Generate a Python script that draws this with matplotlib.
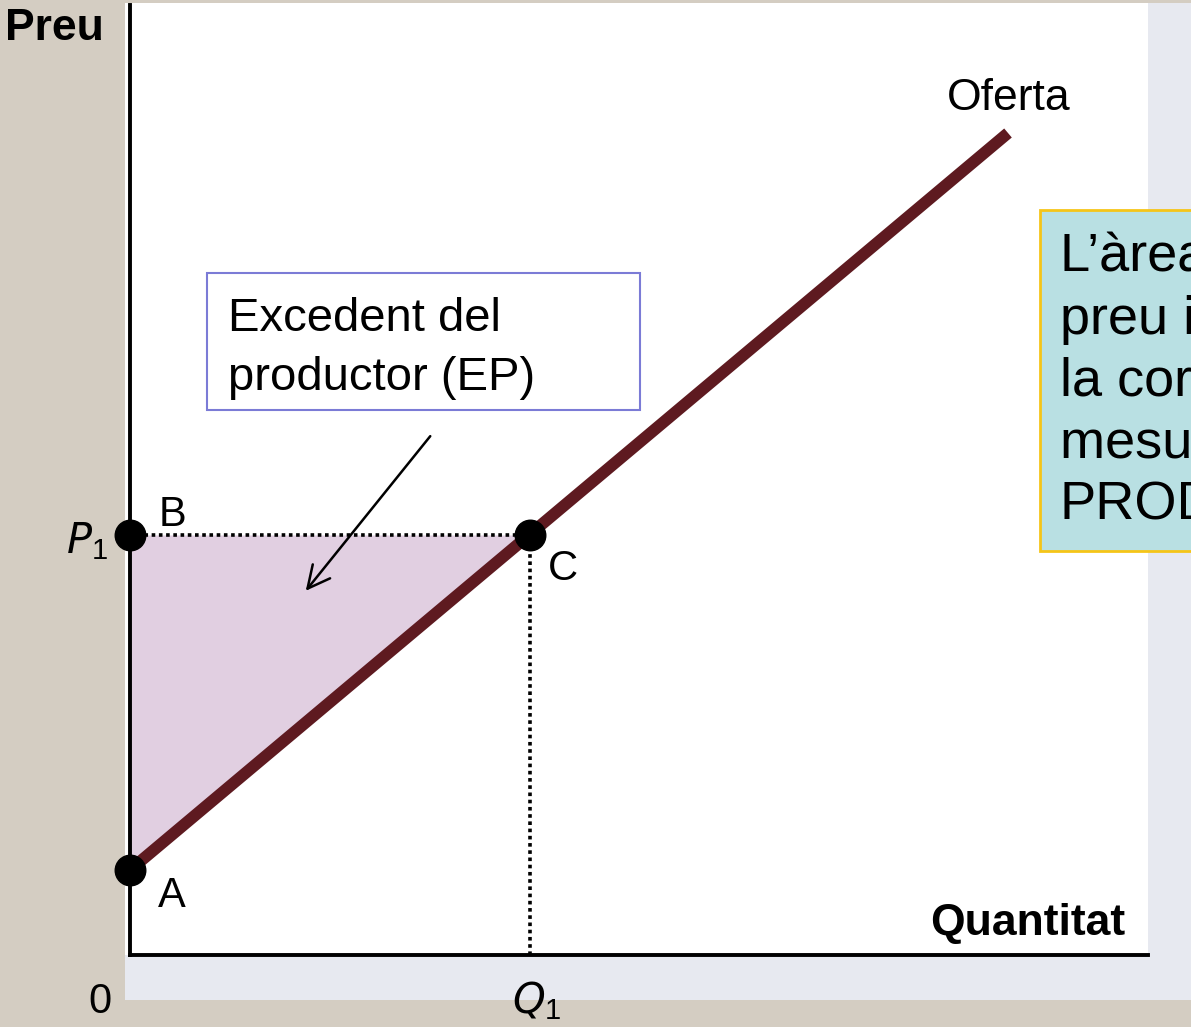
import matplotlib
matplotlib.use("Agg")
import matplotlib.pyplot as plt
from matplotlib.patches import Rectangle

plt.rcParams['font.family'] = ['Liberation Sans', 'DejaVu Sans']

W, H = 1191, 1027

# dades del gràfic (excedent del productor)
oferta_q = [0.0, 8.78]
oferta_p = [0.85, 8.22]
q1 = 4.0
p1 = 4.2
punts_q = [0.0, 0.0, 4.0]
punts_p = [0.85, 4.2, 4.2]
punts_nom = ["A", "B", "C"]
text_caixa = ["L’àrea sota el", "preu i per sobre de", "la corba d’oferta",
              "mesura l’excedent del", "PRODUCTOR"]


def fx(px):
    return px / W


def fy(py):
    return 1 - py / H


fig = plt.figure(figsize=(W / 100, H / 100), dpi=100, facecolor="#d4cdc2")

# fons: panell clar i zona blanca
fig.patches.append(Rectangle((fx(125), fy(1000)), fx(W) - fx(125), fy(3) - fy(1000),
                             transform=fig.transFigure, facecolor="#e7e9f0",
                             edgecolor="none", zorder=0))
fig.patches.append(Rectangle((fx(125), fy(955)), fx(1148) - fx(125), fy(3) - fy(955),
                             transform=fig.transFigure, facecolor="white",
                             edgecolor="none", zorder=0))

ax = fig.add_axes([fx(130), fy(955), fx(1148) - fx(130), fy(5) - fy(955)])
ax.set_zorder(1)
ax.set_facecolor("none")
ax.set_xlim(0, 10.18)
ax.set_ylim(0, 9.5)
for s in ["top", "right"]:
    ax.spines[s].set_visible(False)
for s in ["left", "bottom"]:
    ax.spines[s].set_linewidth(2.8)
    ax.spines[s].set_color("black")
    ax.spines[s].set_zorder(6)
ax.set_xticks([])
ax.set_yticks([])

# àrea de l'excedent (entre P1 i l'oferta fins a Q1)
pend = (oferta_p[1] - oferta_p[0]) / (oferta_q[1] - oferta_q[0])
ax.fill_between([0, q1], [oferta_p[0], oferta_p[0] + pend * q1], p1,
                color="#e1cfe1", lw=0, zorder=1)

# línies de punts
ax.plot([0, q1], [p1, p1], color="black", lw=2.6, ls=(0, (1, 1)), zorder=3)
ax.plot([q1, q1], [0, p1], color="black", lw=2.6, ls=(0, (1, 1)), zorder=3)

# corba d'oferta
ax.plot(oferta_q, oferta_p, color="#5e1a20", lw=8.5, solid_capstyle="butt", zorder=4)

# punts
ax.plot(punts_q, punts_p, "o", color="black", ms=22, clip_on=False, zorder=7)

# fletxa
ax.annotate("", xy=(1.74, 3.62), xytext=(3.02, 5.21),
            arrowprops=dict(arrowstyle="->", lw=1.8, color="black", mutation_scale=40),
            zorder=5)

# textos
fs = 30
fig.text(fx(5), fy(40), "Preu", fontsize=32, fontweight="bold", va="baseline")
fig.text(fx(1125), fy(935), "Quantitat", fontsize=32, fontweight="bold",
         ha="right", va="baseline")
fig.text(fx(947), fy(110), "Oferta", fontsize=32, va="baseline")
fig.text(fx(100), fy(1013), "0", fontsize=fs, ha="center", va="baseline")
fig.text(fx(512), fy(1013), "$\\mathit{Q}_{\\mathregular{1}}$", fontsize=fs, va="baseline")
fig.text(fx(66), fy(553), "$\\mathit{P}_{\\mathregular{1}}$", fontsize=fs, va="baseline")
fig.text(fx(159), fy(526), punts_nom[1], fontsize=fs, va="baseline")
fig.text(fx(548), fy(580), punts_nom[2], fontsize=fs, va="baseline")
fig.text(fx(158), fy(907), punts_nom[0], fontsize=fs, va="baseline")

# caixa de l'excedent
fig.patches.append(Rectangle((fx(207), fy(410)), fx(640) - fx(207), fy(273) - fy(410),
                             transform=fig.transFigure, facecolor="white",
                             edgecolor="#7b7bd6", lw=1.5, zorder=3))
fig.text(fx(228), fy(331), "Excedent del", fontsize=34, va="baseline", zorder=4)
fig.text(fx(228), fy(390), "productor (EP)", fontsize=34, va="baseline", zorder=4)

# caixa explicativa (retallada per la vora, com a l'original)
fig.patches.append(Rectangle((fx(1040), fy(551)), fx(1260) - fx(1040), fy(210) - fy(551),
                             transform=fig.transFigure, facecolor="#b9e0e3",
                             edgecolor="#f5c518", lw=2, zorder=3))
for i, linia in enumerate(text_caixa):
    fig.text(fx(1060), fy(272 + i * 62), linia, fontsize=39, va="baseline", zorder=4)

fig.savefig("out.png", dpi=100, facecolor=fig.get_facecolor())
